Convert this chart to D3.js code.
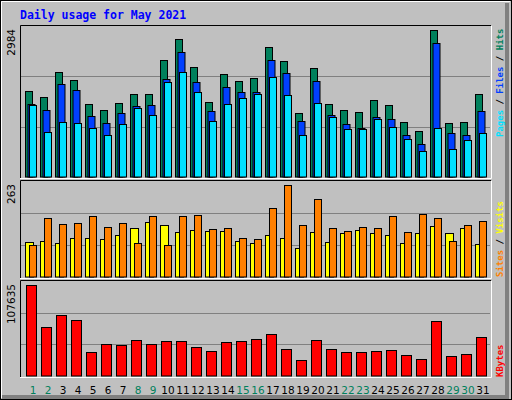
<!DOCTYPE html>
<html><head><meta charset="utf-8">
<style>body{margin:0;background:#fff}svg{display:block}text{font-family:"DejaVu Sans Mono",monospace}</style>
</head><body>
<div class="start"></div>
<script src="https://cdn.jsdelivr.net/npm/d3@7/dist/d3.min.js"></script>
<script>
var days = d3.range(1, 32);
var weekends = [1, 2, 8, 9, 15, 16, 22, 23, 29, 30];
var hits = [1708,1590,2081,1924,1433,1315,1472,1649,1649,2316,2729,2179,1492,2042,1904,1963,2572,2297,1256,2159,1433,1315,1276,1531,1413,1080,903,2905,1060,1080,1649];
var files = [1433,1315,1845,1727,1197,1060,1256,1394,1413,1943,2473,1885,1296,1786,1688,1688,2316,2061,1099,1904,1217,1040,962,1178,1139,824,648,2650,864,824,1296];
var pages = [1413,883,1080,1060,962,824,1040,1354,1217,1885,2081,1688,1099,1433,1570,1649,1983,1629,824,1472,1178,942,942,1139,982,746,510,962,550,726,864];
var sites = [96,99,93,107,107,104,115,134,151,142,123,129,126,126,99,93,115,107,79,123,96,121,129,121,115,93,121,140,121,134,90];
var visits = [88,162,145,148,167,137,148,93,167,88,167,170,131,134,107,104,189,252,142,214,134,126,137,134,167,123,173,162,99,142,153];
var kbytes = [103490,55900,69500,63830,27570,36640,35500,41170,36640,40040,40040,33240,28710,38900,40040,42300,47970,30970,18510,41170,30970,27570,27570,28710,29840,24170,19640,62700,23040,25310,44570];
var maxTop = 2984, maxMid = 263, maxBot = 107635;

var svg = d3.select('.start').append('svg').attr('width', 512).attr('height', 400);
svg.append('rect').attr('width', 512).attr('height', 400).attr('fill', '#c0c0c0');
// raised outer frame
svg.append('rect').attr('x', 0.5).attr('y', 0.5).attr('width', 511).attr('height', 399).attr('fill', 'none').attr('stroke', '#000');
svg.append('path').attr('d', 'M1.5,398V1.5H510').attr('stroke', '#fff').attr('fill', 'none');
svg.append('path').attr('d', 'M507,3V397H2').attr('stroke', '#808080').attr('stroke-width', 4).attr('fill', 'none');

svg.append('text').attr('x', 20).attr('y', 19).attr('fill', '#0000ff')
    .style('font-size', '11.5px').style('font-weight', 'bold').text('Daily usage for May 2021');

var x = d3.scaleLinear().domain([1, 32]).range([25.5, 490.5]);

function panel(y0, y1, max, label) {
    var y = d3.scaleLinear().domain([0, max]).range([y1, y0]);
    svg.append('rect').attr('x', 20).attr('y', y0).attr('width', 471).attr('height', y1 - y0).attr('fill', '#c0c0c0');
    [max / 3, 2 * max / 3].forEach(function(v) {
        svg.append('line').attr('x1', 21).attr('x2', 490).attr('y1', Math.round(y(v)) + 0.5).attr('y2', Math.round(y(v)) + 0.5)
            .attr('stroke', '#808080');
    });
    svg.append('path').attr('d', 'M20.5,' + (y1 + 1) + 'V' + (y0 - 0.5) + 'H491').attr('stroke', '#000').attr('fill', 'none');
    svg.append('path').attr('d', 'M491.5,' + y0 + 'V' + (y1 + 1.5) + 'H20').attr('stroke', '#fff').attr('fill', 'none');
    svg.append('text').attr('transform', 'translate(15,' + (y0 + 3) + ') rotate(-90)').attr('text-anchor', 'end')
        .style('font-family', 'DejaVu Sans').style('font-size', '10.5px').attr('fill', '#000').text(label);
    return y;
}

function bars(y, data, off, w, color) {
    svg.append('g').selectAll('rect').data(data).enter().append('rect')
        .attr('x', function(d, i) { return x(days[i]) + off; })
        .attr('y', function(d) { return Math.round(y(d)) + 0.5; })
        .attr('width', w)
        .attr('height', function(d) { return y(0) - Math.round(y(d)) - 0.5; })
        .attr('fill', color).attr('stroke', '#000');
}

var yTop = panel(26, 177, maxTop, '2984');
bars(yTop, hits, 0, 7, '#00805c');
bars(yTop, files, 2.5, 7, '#0040ff');
bars(yTop, pages, 4, 7, '#00e0ff');

var yMid = panel(181, 277, maxMid, '263');
bars(yMid, sites, 0, 8, '#ffff00');
bars(yMid, visits, 4, 7, '#ff8000');

var yBot = panel(281, 376, maxBot, '107635');
bars(yBot, kbytes, 1, 10, '#ff0000');

svg.append('g').selectAll('text').data(days).enter().append('text')
    .attr('x', function(d) { return x(d) + 7.5; }).attr('y', 394).attr('text-anchor', 'middle')
    .style('font-family', 'DejaVu Sans').style('font-size', '10.5px')
    .attr('fill', function(d) { return weekends.indexOf(d) >= 0 ? '#00805c' : '#000'; })
    .text(function(d) { return d; });

function sideLabel(yEnd, parts) {
    var t = svg.append('text').attr('transform', 'translate(503,' + yEnd + ') rotate(-90)')
        .style('font-size', '9px').style('font-weight', 'bold');
    parts.forEach(function(p) { t.append('tspan').attr('fill', p[1]).text(p[0]); });
}
sideLabel(137, [['Pages', '#00e0ff'], [' / ', '#000'], ['Files', '#0040ff'], [' / ', '#000'], ['Hits', '#00805c']]);
sideLabel(277, [['Sites', '#ff8000'], [' / ', '#000'], ['Visits', '#ffff00']]);
sideLabel(377, [['KBytes', '#ff0000']]);
</script>
</body></html>
